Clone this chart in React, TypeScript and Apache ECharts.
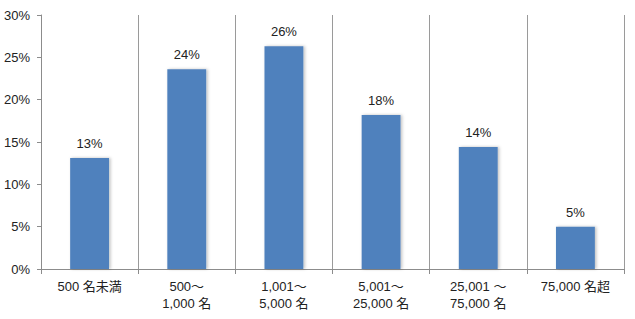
import React, { useEffect, useRef } from "react";
import * as echarts from "echarts";

const categories = [
  "500 名未満",
  "500～\n1,000 名",
  "1,001～\n5,000 名",
  "5,001～\n25,000 名",
  "25,001 ～\n75,000 名",
  "75,000 名超",
];
const values = [13.1, 23.6, 26.3, 18.2, 14.4, 5.0];
const yTicks = [0, 5, 10, 15, 20, 25, 30];

export default function App() {
  const ref = useRef<HTMLDivElement>(null);
  useEffect(() => {
    document.body.style.margin = "0";
    const chart = echarts.init(ref.current!, null, { renderer: "svg" });
    const font = "'Liberation Sans', 'Noto Sans CJK JP', sans-serif";
    chart.setOption({
      animation: false,
      grid: { left: 41, right: 11, top: 15, bottom: 50 },
      xAxis: {
        type: "category",
        data: categories,
        axisLine: { show: true, lineStyle: { color: "#8c8c8c", width: 1 } },
        axisTick: { show: true, length: 5, interval: 0, lineStyle: { color: "#8c8c8c" } },
        splitLine: { show: true, interval: 0, lineStyle: { color: "#9a9a9a", width: 1 } },
        axisLabel: {
          interval: 0,
          margin: 9,
          color: "#222",
          fontSize: 13,
          lineHeight: 17,
          fontFamily: font,
        },
      },
      yAxis: {
        type: "value",
        min: yTicks[0],
        max: yTicks[yTicks.length - 1],
        interval: 5,
        axisLine: { show: true, lineStyle: { color: "#8c8c8c", width: 1 } },
        axisTick: { show: true, length: 4, lineStyle: { color: "#8c8c8c" } },
        splitLine: { show: false },
        axisLabel: {
          formatter: "{value}%",
          color: "#222",
          fontSize: 13,
          margin: 11,
          fontFamily: font,
        },
      },
      series: [
        {
          type: "bar",
          data: values,
          barWidth: "40%",
          itemStyle: {
            color: "#4F81BD",
            shadowColor: "rgba(0,0,0,0.25)",
            shadowBlur: 3,
            shadowOffsetX: 1.5,
            shadowOffsetY: 0,
          },
          label: {
            show: true,
            position: "top",
            distance: 8,
            color: "#222",
            fontSize: 13,
            fontFamily: font,
            formatter: (p: any) => Math.round(p.value) + "%",
          },
        },
      ],
    });
    return () => chart.dispose();
  }, []);
  return <div ref={ref} style={{ width: 635, height: 319 }} />;
}
